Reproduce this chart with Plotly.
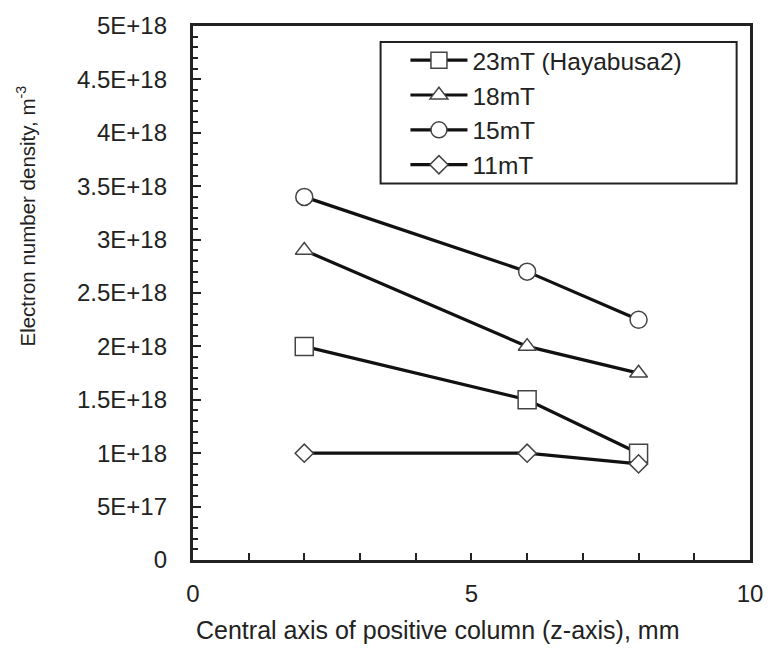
import plotly.graph_objects as go

# Electron number density along the positive column for several magnetic fields
z_mm = [2, 6, 8]
ne_23mT = [2.0e18, 1.5e18, 1.0e18]
ne_18mT = [2.9e18, 2.0e18, 1.75e18]
ne_15mT = [3.4e18, 2.7e18, 2.25e18]
ne_11mT = [1.0e18, 1.0e18, 0.9e18]

series_names = ["23mT (Hayabusa2)", "18mT", "15mT", "11mT"]
series_values = [ne_23mT, ne_18mT, ne_15mT, ne_11mT]
series_symbols = ["square", "triangle-up", "circle", "diamond"]
series_sizes = [18, 15.5, 17, 14]

y_tick_vals = [0, 0.5e18, 1.0e18, 1.5e18, 2.0e18, 2.5e18, 3.0e18, 3.5e18, 4.0e18, 4.5e18, 5.0e18]
y_tick_text = ["0", "5E+17", "1E+18", "1.5E+18", "2E+18", "2.5E+18", "3E+18",
               "3.5E+18", "4E+18", "4.5E+18", "5E+18"]
x_tick_vals = [0, 5, 10]
x_tick_text = ["0", "5", "10"]

FONT = "Liberation Sans, Arial, sans-serif"
INK = "#222222"
Y_RANGE = [0, 5e18]

fig = go.Figure()
for name, vals, sym, size in zip(series_names, series_values, series_symbols, series_sizes):
    fig.add_trace(go.Scatter(
        x=z_mm, y=vals, name=name, mode="lines+markers",
        line=dict(color="#111111", width=3.2),
        marker=dict(symbol=sym, size=size, color="white",
                    line=dict(color="#444444", width=1.5)),
    ))

# Empty trace so the label-only axis gets drawn
fig.add_trace(go.Scatter(x=[], y=[], yaxis="y2", showlegend=False, hoverinfo="skip"))

fig.update_layout(
    width=775, height=650,
    margin=dict(l=167, r=21, t=24, b=90),
    paper_bgcolor="white", plot_bgcolor="white",
    font=dict(family=FONT, color=INK),
    showlegend=True,
    legend=dict(
        x=0.409, y=0.978, xanchor="left", yanchor="top",
        borderwidth=0, bgcolor="rgba(0,0,0,0)",
        font=dict(size=24.5, family=FONT, color=INK),
        traceorder="normal", itemwidth=57,
    ),
    xaxis=dict(
        domain=[26 / 587, 1],
        range=[0, 10], tickvals=x_tick_vals, ticktext=x_tick_text,
        ticks="inside", ticklen=7, tickwidth=2, tickcolor=INK,
        minor=dict(dtick=1, ticks="inside", ticklen=7, tickwidth=2, tickcolor=INK),
        showline=True, linecolor=INK, linewidth=2.5, mirror=True,
        showgrid=False, zeroline=False,
        tickfont=dict(size=24, family=FONT, color=INK), ticklabelstandoff=10,
    ),
    # Frame axis: inside ticks only
    yaxis=dict(
        range=Y_RANGE, tickmode="array", tickvals=y_tick_vals, showticklabels=False,
        ticks="inside", ticklen=8, tickwidth=2, tickcolor=INK,
        minor=dict(dtick=1e17, ticks="inside", ticklen=5, tickwidth=2, tickcolor=INK),
        showline=True, linecolor=INK, linewidth=2.5, mirror=True,
        showgrid=False, zeroline=False,
    ),
    # Label-only axis sitting a little left of the frame, so the numbers
    # keep a clear gap from the inside ticks
    yaxis2=dict(
        overlaying="y", anchor="free", position=0, side="left",
        range=Y_RANGE, tickmode="array", tickvals=y_tick_vals, ticktext=y_tick_text,
        ticks="", showline=False, showgrid=False, zeroline=False,
        tickfont=dict(size=24, family=FONT, color=INK),
    ),
)

# Frame around the legend entries
fig.add_shape(
    type="rect", xref="x domain", yref="paper",
    x0=0.337, x1=0.976, y0=0.705, y1=0.970,
    line=dict(color=INK, width=2), fillcolor="rgba(0,0,0,0)", layer="above",
)

fig.add_annotation(
    text="Central axis of positive column (z-axis), mm",
    xref="x domain", yref="paper", x=0.44, y=-0.1306,
    xanchor="center", yanchor="middle", showarrow=False,
    font=dict(size=25, family=FONT, color=INK),
)
fig.add_annotation(
    text="Electron number density, m<sup>-3</sup>",
    xref="x domain", yref="paper", x=-0.2995, y=0.645, textangle=-90,
    xanchor="center", yanchor="middle", showarrow=False,
    font=dict(size=20.5, family=FONT, color=INK),
)

fig.write_html("out.html")
